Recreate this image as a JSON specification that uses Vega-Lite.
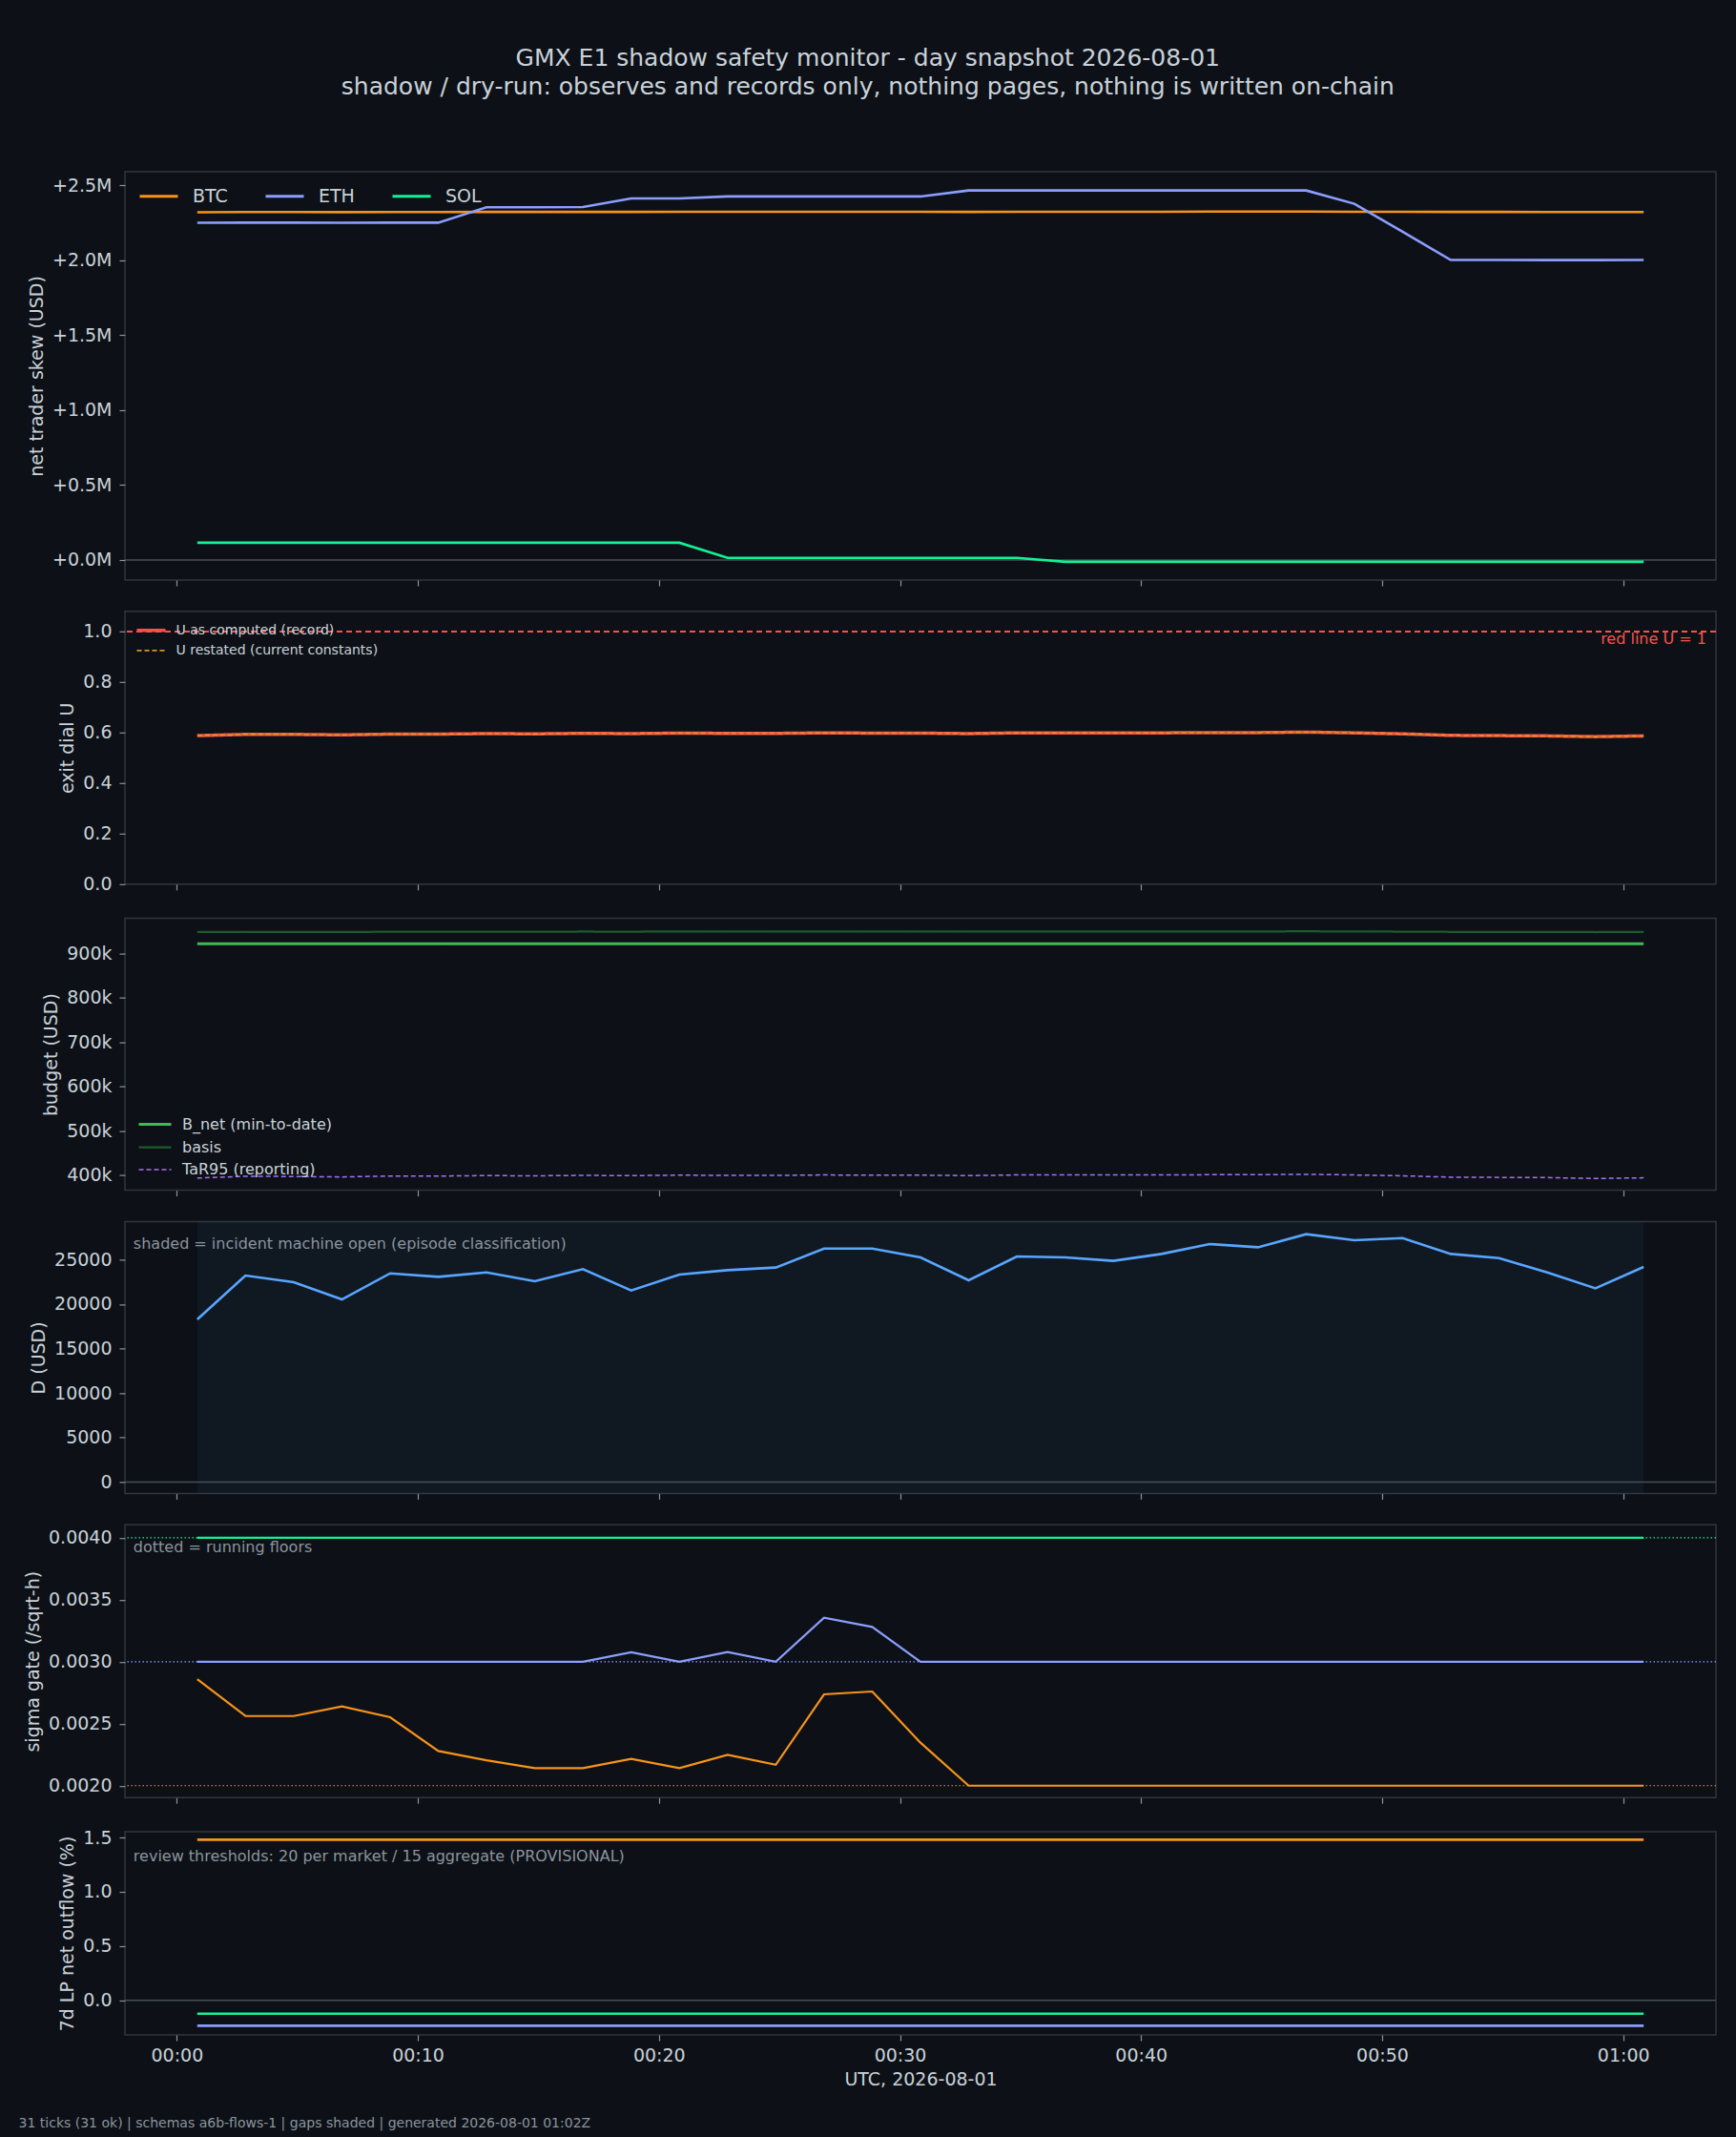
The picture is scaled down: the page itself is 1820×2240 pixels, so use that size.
{
  "$schema": "https://vega.github.io/schema/vega-lite/v6.json",
  "background": "#0d1117",
  "padding": {"left": 18, "right": 21, "top": 49, "bottom": 9},
  "title": {
    "text": "GMX E1 shadow safety monitor - day snapshot 2026-08-01",
    "subtitle": "shadow / dry-run: observes and records only, nothing pages, nothing is written on-chain",
    "fontSize": 25,
    "subtitleFontSize": 25,
    "fontWeight": "normal",
    "color": "#c9d1d9",
    "subtitleColor": "#c9d1d9",
    "subtitlePadding": 5,
    "anchor": "middle",
    "frame": "bounds",
    "offset": 75
  },
  "datasets": {
    "ticks": [
      {"m": 0.85, "skew_BTC": 2320000, "skew_ETH": 2250000, "skew_SOL": 115000, "u_record": 0.588, "u_restated": 0.588, "b_net": 921600, "basis": 948000, "tar95": 393000, "D": 18280, "sig_BTC": 0.00286, "sig_ETH": 0.003, "sig_SOL": 0.004, "lp_BTC": 1.479, "lp_ETH": -0.234, "lp_SOL": -0.123},
      {"m": 2.85, "skew_BTC": 2322000, "skew_ETH": 2251000, "skew_SOL": 115000, "u_record": 0.593, "u_restated": 0.593, "b_net": 921600, "basis": 948500, "tar95": 397000, "D": 23210, "sig_BTC": 0.002562, "sig_ETH": 0.003, "sig_SOL": 0.004, "lp_BTC": 1.479, "lp_ETH": -0.234, "lp_SOL": -0.123},
      {"m": 4.85, "skew_BTC": 2322000, "skew_ETH": 2251000, "skew_SOL": 115000, "u_record": 0.593, "u_restated": 0.593, "b_net": 921600, "basis": 948500, "tar95": 396500, "D": 22460, "sig_BTC": 0.002562, "sig_ETH": 0.003, "sig_SOL": 0.004, "lp_BTC": 1.479, "lp_ETH": -0.234, "lp_SOL": -0.123},
      {"m": 6.85, "skew_BTC": 2321000, "skew_ETH": 2250000, "skew_SOL": 115000, "u_record": 0.591, "u_restated": 0.591, "b_net": 921600, "basis": 948300, "tar95": 395500, "D": 20530, "sig_BTC": 0.002639, "sig_ETH": 0.003, "sig_SOL": 0.004, "lp_BTC": 1.479, "lp_ETH": -0.234, "lp_SOL": -0.123},
      {"m": 8.85, "skew_BTC": 2322000, "skew_ETH": 2251000, "skew_SOL": 115000, "u_record": 0.594, "u_restated": 0.594, "b_net": 921600, "basis": 948700, "tar95": 397500, "D": 23460, "sig_BTC": 0.002552, "sig_ETH": 0.003, "sig_SOL": 0.004, "lp_BTC": 1.479, "lp_ETH": -0.234, "lp_SOL": -0.123},
      {"m": 10.85, "skew_BTC": 2322000, "skew_ETH": 2251000, "skew_SOL": 115000, "u_record": 0.594, "u_restated": 0.594, "b_net": 921600, "basis": 948700, "tar95": 397500, "D": 23070, "sig_BTC": 0.00228, "sig_ETH": 0.003, "sig_SOL": 0.004, "lp_BTC": 1.479, "lp_ETH": -0.234, "lp_SOL": -0.123},
      {"m": 12.85, "skew_BTC": 2323000, "skew_ETH": 2354000, "skew_SOL": 115000, "u_record": 0.596, "u_restated": 0.596, "b_net": 921600, "basis": 949000, "tar95": 398500, "D": 23570, "sig_BTC": 0.002205, "sig_ETH": 0.003, "sig_SOL": 0.004, "lp_BTC": 1.479, "lp_ETH": -0.234, "lp_SOL": -0.123},
      {"m": 14.85, "skew_BTC": 2323000, "skew_ETH": 2354000, "skew_SOL": 115000, "u_record": 0.595, "u_restated": 0.595, "b_net": 921600, "basis": 948900, "tar95": 398000, "D": 22570, "sig_BTC": 0.002141, "sig_ETH": 0.003, "sig_SOL": 0.004, "lp_BTC": 1.479, "lp_ETH": -0.234, "lp_SOL": -0.123},
      {"m": 16.85, "skew_BTC": 2323000, "skew_ETH": 2355000, "skew_SOL": 115000, "u_record": 0.597, "u_restated": 0.597, "b_net": 921600, "basis": 949100, "tar95": 399000, "D": 23930, "sig_BTC": 0.002141, "sig_ETH": 0.003, "sig_SOL": 0.004, "lp_BTC": 1.479, "lp_ETH": -0.234, "lp_SOL": -0.123},
      {"m": 18.85, "skew_BTC": 2323000, "skew_ETH": 2413000, "skew_SOL": 115000, "u_record": 0.596, "u_restated": 0.596, "b_net": 921600, "basis": 949000, "tar95": 398500, "D": 21530, "sig_BTC": 0.002216, "sig_ETH": 0.003076, "sig_SOL": 0.004, "lp_BTC": 1.479, "lp_ETH": -0.234, "lp_SOL": -0.123},
      {"m": 20.85, "skew_BTC": 2324000, "skew_ETH": 2413000, "skew_SOL": 115000, "u_record": 0.598, "u_restated": 0.598, "b_net": 921600, "basis": 949300, "tar95": 399500, "D": 23320, "sig_BTC": 0.002141, "sig_ETH": 0.003, "sig_SOL": 0.004, "lp_BTC": 1.479, "lp_ETH": -0.234, "lp_SOL": -0.123},
      {"m": 22.85, "skew_BTC": 2324000, "skew_ETH": 2426000, "skew_SOL": 14000, "u_record": 0.597, "u_restated": 0.597, "b_net": 921600, "basis": 949200, "tar95": 399000, "D": 23820, "sig_BTC": 0.002249, "sig_ETH": 0.003078, "sig_SOL": 0.004, "lp_BTC": 1.479, "lp_ETH": -0.234, "lp_SOL": -0.123},
      {"m": 24.85, "skew_BTC": 2324000, "skew_ETH": 2426000, "skew_SOL": 14000, "u_record": 0.597, "u_restated": 0.597, "b_net": 921600, "basis": 949200, "tar95": 399000, "D": 24110, "sig_BTC": 0.002169, "sig_ETH": 0.003, "sig_SOL": 0.004, "lp_BTC": 1.479, "lp_ETH": -0.234, "lp_SOL": -0.123},
      {"m": 26.85, "skew_BTC": 2324000, "skew_ETH": 2426000, "skew_SOL": 14000, "u_record": 0.599, "u_restated": 0.599, "b_net": 921600, "basis": 949400, "tar95": 400000, "D": 26250, "sig_BTC": 0.002737, "sig_ETH": 0.003356, "sig_SOL": 0.004, "lp_BTC": 1.479, "lp_ETH": -0.234, "lp_SOL": -0.123},
      {"m": 28.85, "skew_BTC": 2324000, "skew_ETH": 2426000, "skew_SOL": 14000, "u_record": 0.598, "u_restated": 0.598, "b_net": 921600, "basis": 949300, "tar95": 399500, "D": 26250, "sig_BTC": 0.00276, "sig_ETH": 0.003281, "sig_SOL": 0.004, "lp_BTC": 1.479, "lp_ETH": -0.234, "lp_SOL": -0.123},
      {"m": 30.85, "skew_BTC": 2324000, "skew_ETH": 2426000, "skew_SOL": 14000, "u_record": 0.598, "u_restated": 0.598, "b_net": 921600, "basis": 949300, "tar95": 399500, "D": 25250, "sig_BTC": 0.002347, "sig_ETH": 0.003, "sig_SOL": 0.004, "lp_BTC": 1.479, "lp_ETH": -0.234, "lp_SOL": -0.123},
      {"m": 32.85, "skew_BTC": 2323000, "skew_ETH": 2466000, "skew_SOL": 14000, "u_record": 0.596, "u_restated": 0.596, "b_net": 921600, "basis": 949100, "tar95": 398500, "D": 22680, "sig_BTC": 0.002, "sig_ETH": 0.003, "sig_SOL": 0.004, "lp_BTC": 1.479, "lp_ETH": -0.234, "lp_SOL": -0.123},
      {"m": 34.85, "skew_BTC": 2324000, "skew_ETH": 2466000, "skew_SOL": 14000, "u_record": 0.599, "u_restated": 0.599, "b_net": 921600, "basis": 949400, "tar95": 400000, "D": 25360, "sig_BTC": 0.002, "sig_ETH": 0.003, "sig_SOL": 0.004, "lp_BTC": 1.479, "lp_ETH": -0.234, "lp_SOL": -0.123},
      {"m": 36.85, "skew_BTC": 2324000, "skew_ETH": 2466000, "skew_SOL": -12000, "u_record": 0.599, "u_restated": 0.599, "b_net": 921600, "basis": 949400, "tar95": 400000, "D": 25250, "sig_BTC": 0.002, "sig_ETH": 0.003, "sig_SOL": 0.004, "lp_BTC": 1.479, "lp_ETH": -0.234, "lp_SOL": -0.123},
      {"m": 38.85, "skew_BTC": 2324000, "skew_ETH": 2466000, "skew_SOL": -12000, "u_record": 0.599, "u_restated": 0.599, "b_net": 921600, "basis": 949400, "tar95": 400000, "D": 24860, "sig_BTC": 0.002, "sig_ETH": 0.003, "sig_SOL": 0.004, "lp_BTC": 1.479, "lp_ETH": -0.234, "lp_SOL": -0.123},
      {"m": 40.85, "skew_BTC": 2324000, "skew_ETH": 2466000, "skew_SOL": -12000, "u_record": 0.599, "u_restated": 0.599, "b_net": 921600, "basis": 949400, "tar95": 400000, "D": 25640, "sig_BTC": 0.002, "sig_ETH": 0.003, "sig_SOL": 0.004, "lp_BTC": 1.479, "lp_ETH": -0.234, "lp_SOL": -0.123},
      {"m": 42.85, "skew_BTC": 2325000, "skew_ETH": 2466000, "skew_SOL": -12000, "u_record": 0.6, "u_restated": 0.6, "b_net": 921600, "basis": 949500, "tar95": 400500, "D": 26750, "sig_BTC": 0.002, "sig_ETH": 0.003, "sig_SOL": 0.004, "lp_BTC": 1.479, "lp_ETH": -0.234, "lp_SOL": -0.123},
      {"m": 44.85, "skew_BTC": 2325000, "skew_ETH": 2466000, "skew_SOL": -12000, "u_record": 0.6, "u_restated": 0.6, "b_net": 921600, "basis": 949500, "tar95": 400500, "D": 26390, "sig_BTC": 0.002, "sig_ETH": 0.003, "sig_SOL": 0.004, "lp_BTC": 1.479, "lp_ETH": -0.234, "lp_SOL": -0.123},
      {"m": 46.85, "skew_BTC": 2325000, "skew_ETH": 2466000, "skew_SOL": -12000, "u_record": 0.602, "u_restated": 0.602, "b_net": 921600, "basis": 949700, "tar95": 401500, "D": 27860, "sig_BTC": 0.002, "sig_ETH": 0.003, "sig_SOL": 0.004, "lp_BTC": 1.479, "lp_ETH": -0.234, "lp_SOL": -0.123},
      {"m": 48.85, "skew_BTC": 2324000, "skew_ETH": 2377000, "skew_SOL": -12000, "u_record": 0.599, "u_restated": 0.599, "b_net": 921600, "basis": 949400, "tar95": 400000, "D": 27180, "sig_BTC": 0.002, "sig_ETH": 0.003, "sig_SOL": 0.004, "lp_BTC": 1.479, "lp_ETH": -0.234, "lp_SOL": -0.123},
      {"m": 50.85, "skew_BTC": 2324000, "skew_ETH": 2190000, "skew_SOL": -12000, "u_record": 0.595, "u_restated": 0.595, "b_net": 921600, "basis": 949000, "tar95": 398000, "D": 27430, "sig_BTC": 0.002, "sig_ETH": 0.003, "sig_SOL": 0.004, "lp_BTC": 1.479, "lp_ETH": -0.234, "lp_SOL": -0.123},
      {"m": 52.85, "skew_BTC": 2323000, "skew_ETH": 2002000, "skew_SOL": -12000, "u_record": 0.589, "u_restated": 0.589, "b_net": 921600, "basis": 948500, "tar95": 395000, "D": 25640, "sig_BTC": 0.002, "sig_ETH": 0.003, "sig_SOL": 0.004, "lp_BTC": 1.479, "lp_ETH": -0.234, "lp_SOL": -0.123},
      {"m": 54.85, "skew_BTC": 2323000, "skew_ETH": 2002000, "skew_SOL": -12000, "u_record": 0.588, "u_restated": 0.588, "b_net": 921600, "basis": 948400, "tar95": 394500, "D": 25180, "sig_BTC": 0.002, "sig_ETH": 0.003, "sig_SOL": 0.004, "lp_BTC": 1.479, "lp_ETH": -0.234, "lp_SOL": -0.123},
      {"m": 56.85, "skew_BTC": 2322000, "skew_ETH": 2001000, "skew_SOL": -12000, "u_record": 0.587, "u_restated": 0.587, "b_net": 921600, "basis": 948300, "tar95": 394000, "D": 23570, "sig_BTC": 0.002, "sig_ETH": 0.003, "sig_SOL": 0.004, "lp_BTC": 1.479, "lp_ETH": -0.234, "lp_SOL": -0.123},
      {"m": 58.85, "skew_BTC": 2322000, "skew_ETH": 2001000, "skew_SOL": -12000, "u_record": 0.584, "u_restated": 0.584, "b_net": 921600, "basis": 948000, "tar95": 392000, "D": 21780, "sig_BTC": 0.002, "sig_ETH": 0.003, "sig_SOL": 0.004, "lp_BTC": 1.479, "lp_ETH": -0.234, "lp_SOL": -0.123},
      {"m": 60.85, "skew_BTC": 2322000, "skew_ETH": 2002000, "skew_SOL": -12000, "u_record": 0.587, "u_restated": 0.587, "b_net": 921600, "basis": 948300, "tar95": 393500, "D": 24180, "sig_BTC": 0.002, "sig_ETH": 0.003, "sig_SOL": 0.004, "lp_BTC": 1.479, "lp_ETH": -0.234, "lp_SOL": -0.123}
    ],
    "floors": [
      {"key": "sig_BTC", "floor": 0.002},
      {"key": "sig_ETH", "floor": 0.003},
      {"key": "sig_SOL", "floor": 0.004}
    ],
    "incidents": [
      {"start": 0.85, "end": 60.85}
    ]
  },
  "data": {"name": "ticks"},
  "spacing": 23.8,
  "resolve": {"scale": {"color": "independent", "strokeDash": "independent", "strokeWidth": "independent"}},
  "vconcat": [
    {
      "width": 1668,
      "height": 428,
      "layer": [
        {
          "data": {"values": [{}]},
          "mark": {"type": "rule", "color": "#484f58", "strokeWidth": 1.5},
          "encoding": {"y": {"datum": 0, "type": "quantitative"}}
        },
        {
          "transform": [{"fold": ["skew_BTC", "skew_ETH", "skew_SOL"], "as": ["key", "usd"]}],
          "mark": {"type": "line", "strokeWidth": 2.6},
          "encoding": {
            "x": {"field": "m", "type": "quantitative", "scale": {"domain": [-2.15, 63.85], "nice": false, "zero": false}, "axis": {"title": null, "labels": false, "values": [0, 10, 20, 30, 40, 50, 60]}},
            "y": {"field": "usd", "type": "quantitative", "scale": {"domain": [-134000, 2591000], "nice": false, "zero": false}, "axis": {"title": "net trader skew (USD)", "values": [0, 500000, 1000000, 1500000, 2000000, 2500000], "labelExpr": "format(datum.value / 1000000, '+.1f') + 'M'"}},
            "color": {"field": "key", "type": "nominal", "scale": {"domain": ["skew_BTC", "skew_ETH", "skew_SOL"], "range": ["#f7931a", "#8c9eff", "#14f195"]}, "legend": {"title": null, "orient": "top-left", "direction": "horizontal", "offset": 10, "padding": 4, "symbolType": "M-1,0H3", "symbolSize": 400, "symbolStrokeWidth": 3, "labelFontSize": 19, "labelOffset": 34, "columnPadding": 33, "labelExpr": "replace(datum.label, 'skew_', '')"}}
          }
        }
      ]
    },
    {
      "width": 1668,
      "height": 286,
      "layer": [
        {
          "data": {"values": [{}]},
          "mark": {"type": "rule", "color": "#f85149", "strokeWidth": 2, "strokeDash": [6, 4]},
          "encoding": {"y": {"datum": 1, "type": "quantitative"}}
        },
        {
          "transform": [{"fold": ["u_record", "u_restated"], "as": ["key", "u"]}],
          "mark": {"type": "line"},
          "encoding": {
            "x": {"field": "m", "type": "quantitative", "scale": {"domain": [-2.15, 63.85], "nice": false, "zero": false}, "axis": {"title": null, "labels": false, "values": [0, 10, 20, 30, 40, 50, 60]}},
            "y": {"field": "u", "type": "quantitative", "scale": {"domain": [0, 1.08], "nice": false, "zero": false}, "axis": {"title": "exit dial U", "values": [0, 0.2, 0.4, 0.6, 0.8, 1.0], "format": ".1f"}},
            "color": {"field": "key", "type": "nominal", "scale": {"domain": ["u_record", "u_restated"], "range": ["#f85149", "#d29922"]}, "legend": {"title": null, "orient": "top-left", "offset": 6, "padding": 4.5, "symbolType": "M-1,0H3", "symbolSize": 225, "labelFontSize": 14, "labelOffset": 24, "rowPadding": 5, "labelExpr": "datum.label == 'u_record' ? 'U as computed (record)' : 'U restated (current constants)'"}},
            "strokeDash": {"field": "key", "type": "nominal", "scale": {"domain": ["u_record", "u_restated"], "range": [[1, 0], [5, 3]]}, "legend": {"title": null, "orient": "top-left", "offset": 6, "padding": 4.5, "symbolType": "M-1,0H3", "symbolSize": 225, "labelFontSize": 14, "labelOffset": 24, "rowPadding": 5, "labelExpr": "datum.label == 'u_record' ? 'U as computed (record)' : 'U restated (current constants)'"}},
            "strokeWidth": {"field": "key", "type": "nominal", "scale": {"domain": ["u_record", "u_restated"], "range": [3.5, 1.8]}, "legend": {"title": null, "orient": "top-left", "offset": 6, "padding": 4.5, "symbolType": "M-1,0H3", "symbolSize": 225, "labelFontSize": 14, "labelOffset": 24, "rowPadding": 5, "labelExpr": "datum.label == 'u_record' ? 'U as computed (record)' : 'U restated (current constants)'"}}
          }
        },
        {
          "data": {"values": [{"note": "red line U = 1"}]},
          "mark": {"type": "text", "align": "right", "baseline": "middle", "fontSize": 16, "color": "#f85149"},
          "encoding": {
            "x": {"datum": 63.45, "type": "quantitative"},
            "y": {"datum": 0.969, "type": "quantitative"},
            "text": {"field": "note"}
          }
        }
      ]
    },
    {
      "width": 1668,
      "height": 285,
      "transform": [{"fold": ["b_net", "basis", "tar95"], "as": ["key", "usd"]}],
      "mark": {"type": "line"},
      "encoding": {
        "x": {"field": "m", "type": "quantitative", "scale": {"domain": [-2.15, 63.85], "nice": false, "zero": false}, "axis": {"title": null, "labels": false, "values": [0, 10, 20, 30, 40, 50, 60]}},
        "y": {"field": "usd", "type": "quantitative", "scale": {"domain": [365500, 979000], "nice": false, "zero": false}, "axis": {"title": "budget (USD)", "values": [400000, 500000, 600000, 700000, 800000, 900000], "labelExpr": "format(datum.value / 1000, 'd') + 'k'"}},
        "color": {"field": "key", "type": "nominal", "scale": {"domain": ["b_net", "basis", "tar95"], "range": ["#3fb950", "#1a5c2b", "#a371f7"]}, "legend": {"title": null, "orient": "bottom-left", "offset": 9, "padding": 4, "symbolType": "M-1,0H3", "symbolSize": 289, "labelFontSize": 16, "labelOffset": 27, "rowPadding": 6, "labelExpr": "datum.label == 'b_net' ? 'B_net (min-to-date)' : datum.label == 'basis' ? 'basis' : 'TaR95 (reporting)'"}},
        "strokeDash": {"field": "key", "type": "nominal", "scale": {"domain": ["b_net", "basis", "tar95"], "range": [[1, 0], [1, 0], [5, 3]]}, "legend": {"title": null, "orient": "bottom-left", "offset": 9, "padding": 4, "symbolType": "M-1,0H3", "symbolSize": 289, "labelFontSize": 16, "labelOffset": 27, "rowPadding": 6, "labelExpr": "datum.label == 'b_net' ? 'B_net (min-to-date)' : datum.label == 'basis' ? 'basis' : 'TaR95 (reporting)'"}},
        "strokeWidth": {"field": "key", "type": "nominal", "scale": {"domain": ["b_net", "basis", "tar95"], "range": [3, 1.5, 1.8]}, "legend": {"title": null, "orient": "bottom-left", "offset": 9, "padding": 4, "symbolType": "M-1,0H3", "symbolSize": 289, "labelFontSize": 16, "labelOffset": 27, "rowPadding": 6, "labelExpr": "datum.label == 'b_net' ? 'B_net (min-to-date)' : datum.label == 'basis' ? 'basis' : 'TaR95 (reporting)'"}}
      }
    },
    {
      "width": 1668,
      "height": 285,
      "layer": [
        {
          "data": {"name": "incidents"},
          "mark": {"type": "rect", "color": "#58a6ff", "opacity": 0.05},
          "encoding": {
            "x": {"field": "start", "type": "quantitative", "title": null, "scale": {"domain": [-2.15, 63.85], "nice": false, "zero": false}},
            "x2": {"field": "end"}
          }
        },
        {
          "data": {"values": [{}]},
          "mark": {"type": "rule", "color": "#484f58", "strokeWidth": 1.5},
          "encoding": {"y": {"datum": 0, "type": "quantitative"}}
        },
        {
          "mark": {"type": "line", "color": "#58a6ff", "strokeWidth": 2.6},
          "encoding": {
            "x": {"field": "m", "type": "quantitative", "scale": {"domain": [-2.15, 63.85], "nice": false, "zero": false}, "axis": {"title": null, "labels": false, "values": [0, 10, 20, 30, 40, 50, 60]}},
            "y": {"field": "D", "type": "quantitative", "scale": {"domain": [-1286, 29286], "nice": false, "zero": false}, "axis": {"title": "D (USD)", "values": [0, 5000, 10000, 15000, 20000, 25000], "format": "d"}}
          }
        },
        {
          "data": {"values": [{"note": "shaded = incident machine open (episode classification)"}]},
          "mark": {"type": "text", "align": "left", "baseline": "middle", "fontSize": 16, "color": "#8b949e"},
          "encoding": {
            "x": {"datum": -1.8, "type": "quantitative"},
            "y": {"datum": 26786, "type": "quantitative"},
            "text": {"field": "note"}
          }
        }
      ]
    },
    {
      "width": 1668,
      "height": 286,
      "layer": [
        {
          "data": {"name": "floors"},
          "mark": {"type": "rule", "strokeWidth": 1.2, "strokeDash": [1.5, 2.5]},
          "encoding": {
            "y": {"field": "floor", "type": "quantitative"},
            "color": {"field": "key", "type": "nominal", "scale": {"domain": ["sig_BTC", "sig_ETH", "sig_SOL"], "range": ["#f7931a", "#8c9eff", "#14f195"]}, "legend": null}
          }
        },
        {
          "transform": [{"fold": ["sig_BTC", "sig_ETH", "sig_SOL"], "as": ["key", "sigma"]}],
          "mark": {"type": "line", "strokeWidth": 2.2},
          "encoding": {
            "x": {"field": "m", "type": "quantitative", "scale": {"domain": [-2.15, 63.85], "nice": false, "zero": false}, "axis": {"title": null, "labels": false, "values": [0, 10, 20, 30, 40, 50, 60]}},
            "y": {"field": "sigma", "type": "quantitative", "scale": {"domain": [0.001904, 0.004106], "nice": false, "zero": false}, "axis": {"title": "sigma gate (/sqrt-h)", "values": [0.002, 0.0025, 0.003, 0.0035, 0.004], "format": ".4f"}},
            "color": {"field": "key", "type": "nominal", "scale": {"domain": ["sig_BTC", "sig_ETH", "sig_SOL"], "range": ["#f7931a", "#8c9eff", "#14f195"]}, "legend": null}
          }
        },
        {
          "data": {"values": [{"note": "dotted = running floors"}]},
          "mark": {"type": "text", "align": "left", "baseline": "middle", "fontSize": 16, "color": "#8b949e"},
          "encoding": {
            "x": {"datum": -1.8, "type": "quantitative"},
            "y": {"datum": 0.003926, "type": "quantitative"},
            "text": {"field": "note"}
          }
        }
      ]
    },
    {
      "width": 1668,
      "height": 213,
      "layer": [
        {
          "data": {"values": [{}]},
          "mark": {"type": "rule", "color": "#484f58", "strokeWidth": 1.5},
          "encoding": {"y": {"datum": 0, "type": "quantitative"}}
        },
        {
          "transform": [{"fold": ["lp_BTC", "lp_ETH", "lp_SOL"], "as": ["key", "pct"]}],
          "mark": {"type": "line", "strokeWidth": 2.6},
          "encoding": {
            "x": {"field": "m", "type": "quantitative", "scale": {"domain": [-2.15, 63.85], "nice": false, "zero": false}, "axis": {"title": "UTC, 2026-08-01", "labelFlush": false, "values": [0, 10, 20, 30, 40, 50, 60], "labelExpr": "(datum.value >= 60 ? '01:' : '00:') + (datum.value % 60 == 0 ? '00' : '' + (datum.value % 60))"}},
            "y": {"field": "pct", "type": "quantitative", "scale": {"domain": [-0.319, 1.553], "nice": false, "zero": false}, "axis": {"title": "7d LP net outflow (%)", "values": [0, 0.5, 1.0, 1.5], "format": ".1f"}},
            "color": {"field": "key", "type": "nominal", "scale": {"domain": ["lp_BTC", "lp_ETH", "lp_SOL"], "range": ["#f7931a", "#8c9eff", "#14f195"]}, "legend": null}
          }
        },
        {
          "data": {"values": [{"note": "review thresholds: 20 per market / 15 aggregate (PROVISIONAL)"}]},
          "mark": {"type": "text", "align": "left", "baseline": "middle", "fontSize": 16, "color": "#8b949e"},
          "encoding": {
            "x": {"datum": -1.8, "type": "quantitative"},
            "y": {"datum": 1.324, "type": "quantitative"},
            "text": {"field": "note"}
          }
        },
        {
          "data": {"values": [{"note": "31 ticks (31 ok) | schemas a6b-flows-1 | gaps shaded | generated 2026-08-01 01:02Z"}]},
          "mark": {"type": "text", "align": "left", "baseline": "middle", "fontSize": 14, "color": "#8b949e"},
          "encoding": {
            "x": {"datum": -6.56, "type": "quantitative"},
            "y": {"datum": -1.134, "type": "quantitative"},
            "text": {"field": "note"}
          }
        }
      ]
    }
  ],
  "config": {
    "background": "#0d1117",
    "font": "DejaVu Sans",
    "view": {"fill": "#0d1117", "stroke": "#30363d", "strokeWidth": 1.5},
    "axis": {
      "domain": false,
      "grid": false,
      "tickColor": "#8b949e",
      "tickSize": 6,
      "tickWidth": 1.2,
      "labelColor": "#c9d1d9",
      "labelFontSize": 19,
      "labelPadding": 8,
      "titleColor": "#c9d1d9",
      "titleFontSize": 19,
      "titleFontWeight": "normal",
      "titlePadding": 6
    },
    "axisX": {"labelPadding": 6},
    "legend": {"labelColor": "#c9d1d9", "labelLimit": 400}
  }
}
